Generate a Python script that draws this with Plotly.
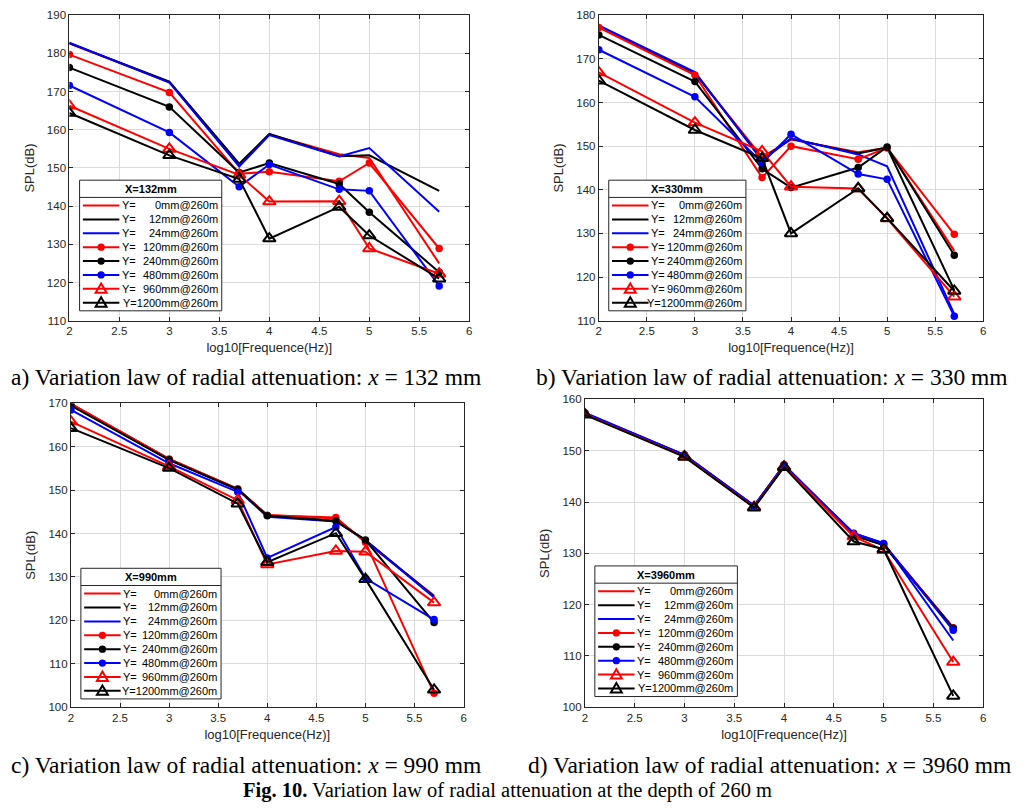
import numpy as np
import plotly.graph_objects as go

# ---------------- data ----------------
freq_hz = [100, 1000, 5000, 10000, 50000, 100000, 500000]
y_offsets_mm = [0, 12, 24, 120, 240, 480, 960, 1200]
legend_values = ["0mm@260m", "12mm@260m", "24mm@260m", "120mm@260m",
                 "240mm@260m", "480mm@260m", "960mm@260m", "1200mm@260m"]

# SPL (dB) for each Y offset (rows follow y_offsets_mm), per radial position X
spl_x132 = [
    [182.6, 172.5, 150.6, 158.8, 153.6, 152.6, 125.0],
    [182.7, 172.6, 151.1, 158.9, 153.1, 153.3, 144.0],
    [182.8, 172.4, 150.4, 158.6, 153.0, 155.2, 138.5],
    [179.7, 169.8, 148.5, 149.0, 146.5, 151.3, 128.9],
    [176.3, 166.0, 148.8, 151.3, 145.8, 138.4, 122.7],
    [171.6, 159.3, 145.1, 150.9, 144.4, 144.0, 119.1],
    [166.3, 155.0, 148.2, 141.2, 141.3, 128.9, 122.3],
    [164.4, 153.3, 147.1, 131.5, 139.8, 132.3, 121.0],
]
spl_x330 = [
    [177.4, 166.7, 147.5, 151.5, 148.6, 149.6, 126.0],
    [177.5, 166.8, 147.0, 151.7, 148.3, 149.7, 117.0],
    [177.7, 167.0, 146.7, 151.8, 148.1, 145.4, 111.5],
    [177.2, 166.3, 142.8, 150.0, 147.0, 149.6, 129.8],
    [175.5, 164.8, 144.8, 140.5, 145.1, 149.8, 125.0],
    [172.1, 161.3, 146.2, 152.7, 143.6, 142.4, 111.0],
    [166.9, 155.4, 148.8, 140.7, 140.3, 133.4, 115.5],
    [165.0, 153.7, 147.2, 130.0, 140.3, 133.5, 116.8],
]
spl_x990 = [
    [169.9, 157.2, 150.3, 144.3, 143.5, 138.2, 125.7],
    [169.8, 157.1, 150.2, 144.1, 142.9, 138.5, 125.5],
    [169.7, 157.0, 150.1, 143.9, 142.8, 138.4, 125.3],
    [169.9, 157.2, 150.3, 144.2, 143.7, 138.0, 103.2],
    [169.5, 157.0, 150.2, 144.1, 142.9, 138.5, 119.5],
    [168.5, 156.2, 149.6, 134.4, 141.5, 129.7, 120.2],
    [165.8, 155.5, 147.7, 132.9, 136.0, 135.8, 124.1],
    [164.3, 155.1, 146.9, 133.4, 140.1, 129.5, 104.0],
]
spl_x3960 = [
    [157.3, 149.1, 139.2, 147.1, 133.6, 131.7, 115.5],
    [157.2, 149.0, 139.1, 147.0, 133.5, 131.6, 115.4],
    [157.3, 149.2, 139.3, 147.1, 133.9, 132.0, 113.0],
    [157.3, 149.1, 139.2, 147.3, 133.6, 131.8, 115.5],
    [157.2, 149.0, 139.1, 147.1, 133.5, 131.6, 115.4],
    [157.4, 149.2, 139.3, 147.2, 133.9, 131.9, 115.0],
    [157.1, 148.9, 139.0, 146.9, 133.3, 130.6, 108.8],
    [157.0, 148.8, 138.9, 146.8, 132.3, 130.8, 102.2],
]
x_ticks = [2, 2.5, 3, 3.5, 4, 4.5, 5, 5.5, 6]

# ---------------- styling ----------------
# the page has an 8px body margin, so the figure is 1016x803 and page
# coordinates are shifted by 8px
OFF = 8
W, H = 1024 - OFF, 811 - OFF
def PX(x): return (x - OFF) / W
def PY(y): return 1 - (y - OFF) / H

colors = ["#ff0000", "#000000", "#0000ff"] * 3
markers = [None, None, None, "circle", "circle", "circle",
           "triangle-up-open", "triangle-up-open"]

panels = [
    dict(title="X=132mm", data=spl_x132, yr=[110, 190], box=(66.7, 469, 9.3, 319.3),
         leg=(77, 176.7, 143), cap="a) Variation law of radial attenuation: <i>x</i> = 132 mm",
         capx=6, capa="left", capy=377),
    dict(title="X=330mm", data=spl_x330, yr=[110, 180], box=(599.3, 986, 9.3, 319.3),
         leg=(609.3, 176.7, 138), cap="b) Variation law of radial attenuation: <i>x</i> = 330 mm",
         capx=1013, capa="right", capy=377),
    dict(title="X=990mm", data=spl_x990, yr=[100, 170], box=(68.3, 463.3, 403.3, 711.7),
         leg=(78.3, 570.7, 141), cap="c) Variation law of radial attenuation: <i>x</i> = 990 mm",
         capx=6, capa="left", capy=770),
    dict(title="X=3960mm", data=spl_x3960, yr=[100, 160], box=(585.3, 986, 399.3, 711.7),
         leg=(595.3, 568.3, 143.4), cap="d) Variation law of radial attenuation: <i>x</i> = 3960 mm",
         capx=1016, capa="right", capy=770),
]

x_vals = np.log10(np.array(freq_hz, dtype=float))
SANS = "Liberation Sans, Arial, sans-serif"
SERIF = "Liberation Serif, Times New Roman, serif"
AXC = "#262626"

fig = go.Figure()
shapes, annos = [], []
layout = {}

for k, p in enumerate(panels):
    n = "" if k == 0 else str(k + 1)
    xa, ya = "x" + n, "y" + n
    for i, row in enumerate(p["data"]):
        mk = markers[i]
        if mk is None:
            mode, mdict = "lines", None
        elif mk == "circle":
            mode, mdict = "lines+markers", dict(symbol="circle", size=7.5, color=colors[i])
        else:
            mode, mdict = "lines+markers", dict(symbol=mk, size=11, color=colors[i],
                                                line=dict(width=2, color=colors[i]))
        fig.add_trace(go.Scatter(x=x_vals, y=row, mode=mode, marker=mdict,
                                 line=dict(color=colors[i], width=2),
                                 showlegend=False, xaxis=xa, yaxis=ya,
                                 hoverinfo="skip"))
    l, r, t, b = p["box"]
    common = dict(showline=True, linecolor=AXC, linewidth=1, mirror="ticks",
                  ticks="inside", ticklen=4, tickcolor=AXC, showgrid=True,
                  gridcolor="#dcdcdc", gridwidth=1, zeroline=False,
                  tickfont=dict(family=SANS, size=11.5, color=AXC))
    layout["xaxis" + n] = dict(domain=[PX(l), PX(r)], range=[2, 6], tickvals=x_ticks,
                               ticktext=[f"{v:g}" for v in x_ticks], anchor=ya,
                               title=dict(text="log10[Frequence(Hz)]", standoff=6,
                                          font=dict(family=SANS, size=13, color=AXC)),
                               **common)
    layout["yaxis" + n] = dict(domain=[PY(b), PY(t)], range=p["yr"], dtick=10, anchor=xa,
                               title=dict(text="SPL(dB)", standoff=9,
                                          font=dict(family=SANS, size=13, color=AXC)),
                               **common)

    # ---- legend drawn as a box inside the axes ----
    lx, ly, lw = p["leg"]
    lh = 132.6
    shapes.append(dict(type="rect", xref="paper", yref="paper", layer="above",
                       x0=PX(lx), x1=PX(lx + lw), y0=PY(ly + lh), y1=PY(ly),
                       fillcolor="white", line=dict(color=AXC, width=1)))
    shapes.append(dict(type="line", xref="paper", yref="paper", layer="above",
                       x0=PX(lx), x1=PX(lx + lw), y0=PY(ly + 17.5), y1=PY(ly + 17.5),
                       line=dict(color=AXC, width=1)))
    annos.append(dict(xref="paper", yref="paper", x=PX(lx + lw / 2), y=PY(ly + 9),
                      text="<b>" + p["title"] + "</b>", showarrow=False,
                      xanchor="center", yanchor="middle",
                      font=dict(family=SANS, size=11, color="black")))
    for i in range(len(y_offsets_mm)):
        cy = ly + 25.7 + 14.1 * i
        x0s, x1s = lx + 3.3, lx + 40
        shapes.append(dict(type="line", xref="paper", yref="paper", layer="above",
                           x0=PX(x0s), x1=PX(x1s), y0=PY(cy), y1=PY(cy),
                           line=dict(color=colors[i], width=2)))
        cx = (x0s + x1s) / 2
        if markers[i] == "circle":
            shapes.append(dict(type="circle", xref="paper", yref="paper", layer="above",
                               x0=PX(cx - 3.7), x1=PX(cx + 3.7), y0=PY(cy + 3.7), y1=PY(cy - 3.7),
                               fillcolor=colors[i], line=dict(color=colors[i], width=0)))
        elif markers[i] is not None:
            path = (f"M {PX(cx)},{PY(cy - 5.5)} L {PX(cx - 5.5)},{PY(cy + 4)} "
                    f"L {PX(cx + 5.5)},{PY(cy + 4)} Z")
            shapes.append(dict(type="path", xref="paper", yref="paper", layer="above",
                               path=path, line=dict(color=colors[i], width=2)))
        if i == len(y_offsets_mm) - 1:
            annos.append(dict(xref="paper", yref="paper", x=PX(lx + lw - 4), y=PY(cy),
                              text="Y=" + legend_values[i], showarrow=False,
                              xanchor="right", yanchor="middle", xshift=2,
                              font=dict(family=SANS, size=11, color="black")))
        else:
            annos.append(dict(xref="paper", yref="paper", x=PX(lx + 42.5), y=PY(cy),
                              text="Y=", showarrow=False, xanchor="left", yanchor="middle",
                              xshift=-2, font=dict(family=SANS, size=11, color="black")))
            annos.append(dict(xref="paper", yref="paper", x=PX(lx + lw - 4), y=PY(cy),
                              text=legend_values[i], showarrow=False, xanchor="right",
                              yanchor="middle", xshift=2,
                              font=dict(family=SANS, size=11, color="black")))

    annos.append(dict(xref="paper", yref="paper", x=PX(p["capx"]), y=PY(p["capy"]),
                      text=p["cap"], showarrow=False, xanchor=p["capa"], yanchor="middle",
                      font=dict(family=SERIF, size=23.5, color="black")))

annos.append(dict(xref="paper", yref="paper", x=PX(507), y=PY(796),
                  text="<b>Fig. 10.</b> Variation law of radial attenuation at the depth of 260 m",
                  showarrow=False, xanchor="center", yanchor="middle",
                  font=dict(family=SERIF, size=20.5, color="black")))

fig.update_layout(width=W, height=H, margin=dict(l=0, r=0, t=0, b=0),
                  paper_bgcolor="white", plot_bgcolor="white",
                  shapes=shapes, annotations=annos, showlegend=False, **layout)
fig.write_html("out.html")
